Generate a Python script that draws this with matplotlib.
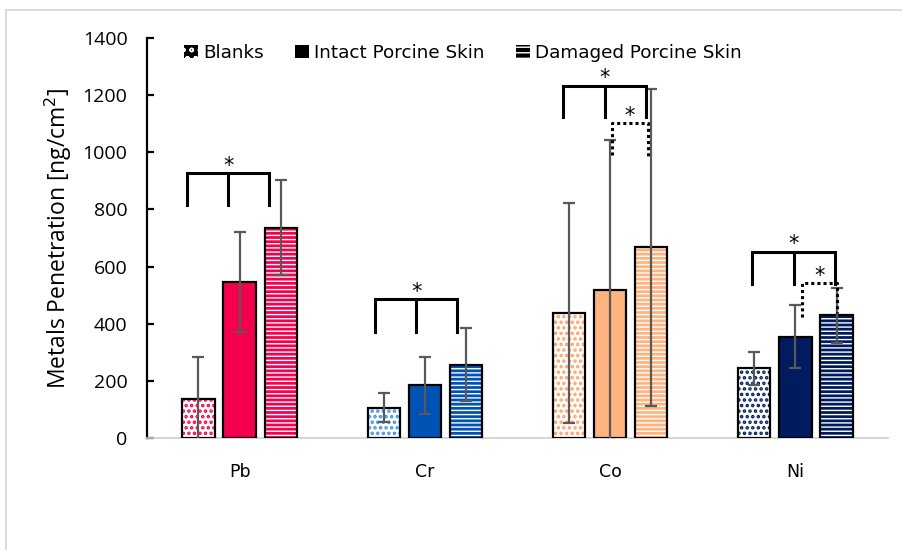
import matplotlib
matplotlib.use("Agg")
import matplotlib.pyplot as plt
from matplotlib.patches import Patch
from matplotlib.lines import Line2D
import numpy as np

# ---- data -------------------------------------------------------------
metals = ["Pb", "Cr", "Co", "Ni"]
groups = ["Blanks", "Intact Porcine Skin", "Damaged Porcine Skin"]

blanks_mean = [135, 106, 436, 244]
blanks_err = [150, 50, 385, 57]
intact_mean = [547, 184, 518, 355]
intact_err = [175, 100, 525, 110]
damaged_mean = [736, 256, 667, 429]
damaged_err = [167, 128, 556, 95]

yticks = [0, 200, 400, 600, 800, 1000, 1200, 1400]
ylabel = "Metals Penetration [ng/cm$^2$]"

# significance brackets: (metal index, top y, leg bottom y, leg x shift)
solid_brackets = [(0, 926, 815, -0.062), (1, 485, 372, -0.047),
                  (2, 1232, 1122, -0.030), (3, 652, 539, -0.010)]
# dotted brackets between intact and damaged: (metal index, top, left bottom, right bottom, shift)
dotted_brackets = [(2, 1101, 990, 980, -0.005), (3, 541, 425, 437, 0.020)]

# ---- styling ----------------------------------------------------------
metal_colors = ["#F5004F", "#0052B4", "#FFB480", "#001C5E"]
blank_dot_colors = ["#F5004F", "#3A96E2", "#FFA066", "#001C5E"]
err_color = "#595959"

fig = plt.figure(figsize=(9.03, 5.5), dpi=100)
ax = fig.add_axes([147 / 903, 1 - 438 / 550, (888 - 147) / 903, 400 / 550])

# outer frame lines
fig.add_artist(Line2D([6 / 903, 1.0], [1 - 10 / 550, 1 - 10 / 550],
                      transform=fig.transFigure, color="#d6d6d6", lw=1.2))
fig.add_artist(Line2D([6 / 903, 6 / 903], [0, 1 - 10 / 550],
                      transform=fig.transFigure, color="#d6d6d6", lw=1.2))

x = np.arange(len(metals))
width = 0.175
step = 0.222
offsets = [-step, 0.0, step]

series = [(blanks_mean, blanks_err), (intact_mean, intact_err), (damaged_mean, damaged_err)]

for gi, (means, errs) in enumerate(series):
    xs = x + offsets[gi]
    for mi in range(len(metals)):
        c = metal_colors[mi]
        if gi == 0:
            with plt.rc_context({"hatch.linewidth": 1.7}):
                ax.bar(xs[mi], means[mi], width, color="white",
                       edgecolor=blank_dot_colors[mi], hatch="...", linewidth=0, zorder=2)
        elif gi == 1:
            ax.bar(xs[mi], means[mi], width, color=c, linewidth=0, zorder=2)
        else:
            with plt.rc_context({"hatch.linewidth": 1.0}):
                ax.bar(xs[mi], means[mi], width, color=c,
                       edgecolor="white", hatch="----", linewidth=0, zorder=2)
        ax.bar(xs[mi], means[mi], width, fill=False, edgecolor="black",
               linewidth=1.6, zorder=3)
    ax.errorbar(xs, means, yerr=errs, fmt="none", ecolor=err_color,
                elinewidth=1.6, capsize=4.3, capthick=1.6, zorder=4)

# brackets
for mi, top, bottom, shift in solid_brackets:
    legs = [mi + o + shift for o in offsets]
    ax.plot([legs[0], legs[0], legs[2], legs[2]], [bottom, top, top, bottom],
            color="black", lw=2.2, solid_joinstyle="miter", zorder=5, clip_on=False)
    ax.plot([legs[1], legs[1]], [top, bottom], color="black", lw=2.2, zorder=5)
    ax.text(legs[1], top - 8, "*", ha="center", va="bottom", fontsize=15,
            family="DejaVu Sans", zorder=6)

for mi, top, lb, rb, shift in dotted_brackets:
    xl = mi + offsets[1] + shift + 0.015
    xr = mi + offsets[2] + shift - 0.015
    ax.plot([xl, xl, xr, xr], [lb, top, top, rb], color="black", lw=2.2,
            linestyle=(0, (1, 1)), zorder=5)
    ax.text((xl + xr) / 2, top - 8, "*", ha="center", va="bottom", fontsize=15,
            family="DejaVu Sans", zorder=6)

# axes
ax.set_xlim(-0.5, len(metals) - 0.5)
ax.set_ylim(0, 1400)
ax.set_yticks(yticks)
ax.set_yticklabels([str(t) for t in yticks], fontsize=14, family="Open Sans")
ax.set_xticks(x)
ax.set_xticklabels(metals, fontsize=12.5, family="DejaVu Sans")
ax.tick_params(axis="y", direction="in", length=5, width=1.6, pad=14, colors="black")
ax.tick_params(axis="x", length=0, pad=18)
for s in ["top", "right"]:
    ax.spines[s].set_visible(False)
ax.spines["left"].set_linewidth(1.6)
ax.spines["bottom"].set_color("#d0d0d0")
ax.spines["bottom"].set_linewidth(1.2)
ax.set_ylabel(ylabel, fontsize=16.5, family="Open Sans", labelpad=6)

# legend
handles = [
    Patch(facecolor="black", edgecolor="white", hatch="oo", linewidth=0),
    Patch(facecolor="black", edgecolor="black", linewidth=0),
    Patch(facecolor="black", edgecolor="white", hatch="---", linewidth=0),
]
fig.legend(handles, groups, loc="upper left", bbox_to_anchor=(184 / 903, 1 - 44 / 550),
           ncol=3, frameon=False, prop={"family": "DejaVu Sans", "size": 13.2},
           handlelength=0.75, handleheight=0.75, handletextpad=0.3,
           columnspacing=1.7, borderpad=0, borderaxespad=0)

fig.savefig("out.png", dpi=100)
